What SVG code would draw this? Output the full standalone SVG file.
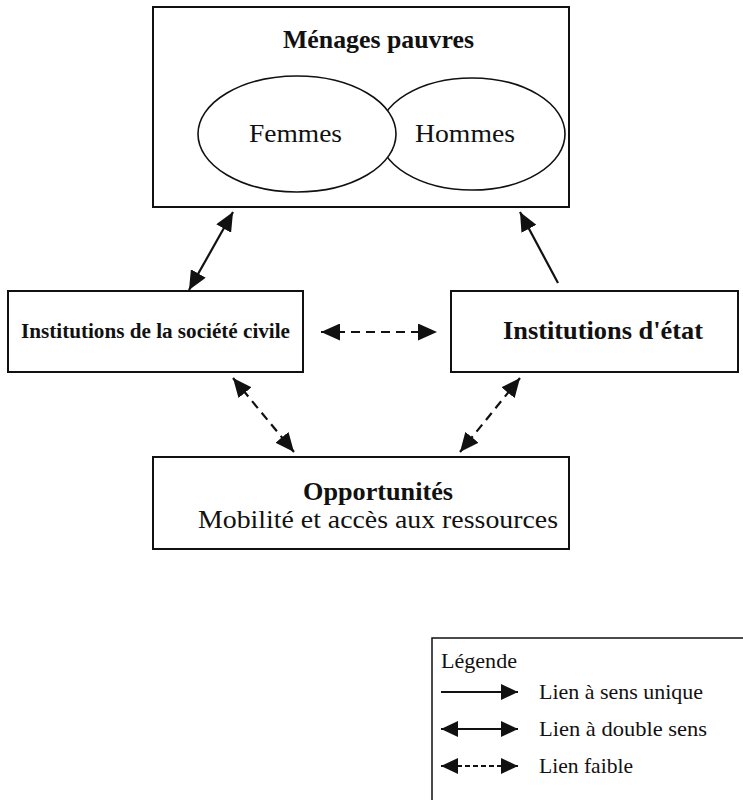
<svg xmlns="http://www.w3.org/2000/svg" width="743" height="800" viewBox="0 0 743 800">
<defs>
<marker id="ah" markerUnits="userSpaceOnUse" markerWidth="19" markerHeight="17" viewBox="0 0 19 17" refX="19" refY="8.5" orient="auto-start-reverse">
<path d="M0,0 L19,8.5 L0,17 z" fill="#111"/>
</marker>
<marker id="ahs" markerUnits="userSpaceOnUse" markerWidth="17" markerHeight="16" viewBox="0 0 17 16" refX="17" refY="8" orient="auto-start-reverse">
<path d="M0,0 L17,8 L0,16 z" fill="#111"/>
</marker>
<style>
.box{fill:#fff;stroke:#111;stroke-width:2}
.ell{fill:#fff;stroke:#111;stroke-width:1.6}
.t{font-family:"Liberation Serif","Times New Roman",serif;fill:#111}
.b{font-weight:bold}
.ln{stroke:#111;stroke-width:2.2;fill:none}
.dash{stroke-dasharray:9 6}
.ldash{stroke-dasharray:5 3}
</style>
</defs>
<rect width="743" height="800" fill="#fff"/>

<g id="menages">
<rect class="box" x="153" y="7" width="416" height="200"/>
<text class="t b" x="283" y="48" font-size="25" textLength="191" lengthAdjust="spacingAndGlyphs">Ménages pauvres</text>
<ellipse class="ell" cx="472" cy="134" rx="93" ry="56"/>
<ellipse class="ell" cx="297" cy="134" rx="99" ry="58"/>
<text class="t" x="249" y="142" font-size="26" textLength="93" lengthAdjust="spacingAndGlyphs">Femmes</text>
<text class="t" x="415" y="142" font-size="26" textLength="100" lengthAdjust="spacingAndGlyphs">Hommes</text>
</g>

<g id="civile">
<rect class="box" x="8" y="291" width="295" height="81"/>
<text class="t b" x="21" y="338" font-size="20" textLength="269" lengthAdjust="spacingAndGlyphs">Institutions de la société civile</text>
</g>

<g id="etat">
<rect class="box" x="451" y="291" width="287" height="81"/>
<text class="t b" x="503" y="339" font-size="25" textLength="200" lengthAdjust="spacingAndGlyphs">Institutions d'état</text>
</g>

<g id="opportunites">
<rect class="box" x="153" y="457" width="416" height="92"/>
<text class="t b" x="303" y="500" font-size="25" textLength="150" lengthAdjust="spacingAndGlyphs">Opportunités</text>
<text class="t" x="198" y="528" font-size="25" textLength="360" lengthAdjust="spacingAndGlyphs">Mobilité et accès aux ressources</text>
</g>

<g id="connectors">
<line class="ln" x1="189" y1="290" x2="233" y2="212" marker-start="url(#ah)" marker-end="url(#ah)"/>
<line class="ln" x1="558" y1="283" x2="520" y2="212" marker-end="url(#ah)"/>
<line class="ln dash" x1="321" y1="332" x2="437" y2="332" marker-start="url(#ah)" marker-end="url(#ah)"/>
<line class="ln dash" x1="233" y1="378" x2="294" y2="452" marker-start="url(#ah)" marker-end="url(#ah)"/>
<line class="ln dash" x1="520" y1="378" x2="460" y2="452" marker-start="url(#ah)" marker-end="url(#ah)"/>
</g>

<g id="legende">
<rect x="432" y="638" width="330" height="200" fill="#fff" stroke="#111" stroke-width="1.5"/>
<text class="t" x="441" y="668" font-size="21" textLength="76" lengthAdjust="spacingAndGlyphs">Légende</text>
<line class="ln" x1="441" y1="692" x2="518" y2="692" marker-end="url(#ahs)"/>
<text class="t" x="539" y="699" font-size="21" textLength="164" lengthAdjust="spacingAndGlyphs">Lien à sens unique</text>
<line class="ln" x1="441" y1="729" x2="518" y2="729" marker-start="url(#ahs)" marker-end="url(#ahs)"/>
<text class="t" x="539" y="736" font-size="21" textLength="168" lengthAdjust="spacingAndGlyphs">Lien à double sens</text>
<line class="ln ldash" x1="441" y1="766" x2="518" y2="766" marker-start="url(#ahs)" marker-end="url(#ahs)"/>
<text class="t" x="539" y="773" font-size="21" textLength="94" lengthAdjust="spacingAndGlyphs">Lien faible</text>
</g>
</svg>
